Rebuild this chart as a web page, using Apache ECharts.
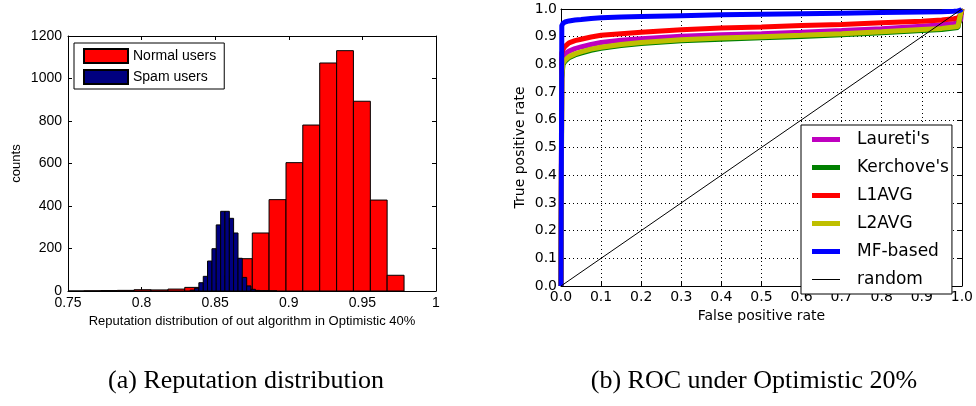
<!DOCTYPE html>
<html><head><meta charset="utf-8">
<script src="https://cdn.jsdelivr.net/npm/echarts@6/dist/echarts.min.js"></script>
<style>html,body{margin:0;padding:0;background:#fff}#c{width:976px;height:406px}</style>
</head><body><div id="c"></div>
<script>
// ---------- (a) Reputation distribution: histogram data ----------
const normalBinEdges = [0.7491,0.7606,0.7720,0.7835,0.7949,0.8064,0.8179,0.8293,0.8408,0.8522,0.8637,0.8752,0.8866,0.8981,0.9095,0.9210,0.9325,0.9439,0.9554,0.9668,0.9783];
const normalCounts   = [0,1,2,3,6,5,9,17,35,70,152,273,430,604,781,1073,1131,893,428,74];
const spamBinEdges   = [0.8330,0.8360,0.8389,0.8419,0.8448,0.8478,0.8507,0.8537,0.8566,0.8596,0.8625,0.8655,0.8684,0.8714,0.8743,0.8773,0.8802,0.8832,0.8861,0.8891,0.8920];
const spamCounts     = [4,13,39,69,141,199,311,375,375,342,273,154,64,24,8,3,1,1,0,0];
const histNames      = ['Normal users','Spam users'];

// ---------- (b) ROC curves ----------
const fpr      = [0,0.002,0.005,0.01,0.02,0.035,0.05,0.075,0.1,0.15,0.2,0.3,0.4,0.5,0.6,0.7,0.8,0.9,0.95,0.98,0.99,0.997,1];
const laureti  = [0,0.82,0.83,0.838,0.848,0.857,0.863,0.872,0.879,0.887,0.893,0.902,0.907,0.911,0.916,0.922,0.929,0.938,0.943,0.948,0.95,0.96,1];
const kerchove = [0,0.75,0.80,0.811,0.824,0.834,0.841,0.851,0.858,0.868,0.875,0.885,0.891,0.896,0.901,0.907,0.914,0.922,0.926,0.931,0.933,0.98,1];
const l1avg    = [0,0.84,0.855,0.865,0.878,0.886,0.891,0.899,0.905,0.911,0.916,0.925,0.931,0.935,0.94,0.944,0.95,0.956,0.96,0.965,0.968,0.98,1];
const l2avg    = [0,0.76,0.805,0.815,0.828,0.838,0.845,0.855,0.862,0.872,0.879,0.889,0.895,0.90,0.905,0.911,0.918,0.926,0.93,0.935,0.937,0.985,1];
const mfBased  = [0,0.94,0.948,0.953,0.957,0.96,0.962,0.966,0.968,0.971,0.973,0.976,0.979,0.981,0.983,0.985,0.987,0.989,0.99,0.992,0.993,0.996,1];
const randomX  = [0,1];
const randomY  = [0,1];
const rocNames = ["Laureti's","Kerchove's",'L1AVG','L2AVG','MF-based','random'];

const captions = ['(a) Reputation distribution','(b) ROC under Optimistic 20%'];

function bins(edges, counts){ return counts.map((c,i)=>[edges[i], edges[i+1], c]); }
function pairs(xs, ys){ return xs.map((x,i)=>[x, ys[i]]); }

function renderHist(params, api){
  const x0 = api.value(0), x1 = api.value(1), c = api.value(2);
  const p0 = api.coord([x0, c]);
  const p1 = api.coord([x1, 0]);
  const cs = params.coordSys;
  const r = echarts.graphic.clipRectByRect(
    {x:p0[0], y:p0[1], width:p1[0]-p0[0], height:p1[1]-p0[1]},
    {x:cs.x, y:cs.y, width:cs.width, height:cs.height});
  if (!r) return null;
  return {type:'rect', shape:r, style: api.style({stroke:'#000', lineWidth:1})};
}

const SANS_A = '"Liberation Sans", Arial, sans-serif';
const SANS_B = '"DejaVu Sans", sans-serif';
const THICK = 'path://M0,0 L28,0 L28,5 L0,5 Z';
const THIN  = 'path://M0,0 L28,0 L28,1 L0,1 Z';

const chart = echarts.init(document.getElementById('c'), null, {renderer:'canvas'});
const boxAxis = (extra) => Object.assign({
  axisLine:{show:true, onZero:false, lineStyle:{color:'#000', width:1}},
  axisTick:{show:true, inside:true, length:4, lineStyle:{color:'#000'}},
  splitLine:{show:false}
}, extra);

chart.setOption({
  animation:false,
  backgroundColor:'#fff',
  grid:[
    {left:68, top:36, width:368, height:255},
    {left:561, top:9, width:402, height:277}
  ],
  xAxis:[
    boxAxis({type:'value', gridIndex:0, position:'bottom', min:0.75, max:1, interval:0.05,
      axisLabel:{color:'#000', fontSize:14, fontFamily:SANS_A, margin:5},
      name:'Reputation distribution of out algorithm in Optimistic 40%', nameLocation:'middle', nameGap:24,
      nameTextStyle:{color:'#000', fontSize:13, fontFamily:SANS_A}}),
    boxAxis({type:'value', gridIndex:0, position:'top', min:0.75, max:1, interval:0.05, axisLabel:{show:false}}),
    boxAxis({type:'value', gridIndex:1, position:'bottom', min:0, max:1, interval:0.1,
      axisLabel:{color:'#000', fontSize:14, fontFamily:SANS_B, margin:4, formatter:v=>v.toFixed(1)},
      splitLine:{show:true, lineStyle:{color:'#000', width:1, type:[1,3]}},
      name:'False positive rate', nameLocation:'middle', nameGap:20,
      nameTextStyle:{color:'#000', fontSize:14, fontFamily:SANS_B}}),
    boxAxis({type:'value', gridIndex:1, position:'top', min:0, max:1, interval:0.1, axisLabel:{show:false}})
  ],
  yAxis:[
    boxAxis({type:'value', gridIndex:0, position:'left', min:0, max:1200, interval:200,
      axisLabel:{color:'#000', fontSize:14, fontFamily:SANS_A, margin:6, formatter:v=>String(v)},
      name:'counts', nameLocation:'middle', nameGap:45,
      nameTextStyle:{color:'#000', fontSize:13, fontFamily:SANS_A}}),
    boxAxis({type:'value', gridIndex:0, position:'right', min:0, max:1200, interval:200, axisLabel:{show:false}}),
    boxAxis({type:'value', gridIndex:1, position:'left', min:0, max:1, interval:0.1,
      axisLabel:{color:'#000', fontSize:14, fontFamily:SANS_B, margin:4, formatter:v=>v.toFixed(1)},
      splitLine:{show:true, lineStyle:{color:'#000', width:1, type:[1,3]}},
      name:'True positive rate', nameLocation:'middle', nameGap:34,
      nameTextStyle:{color:'#000', fontSize:14, fontFamily:SANS_B}}),
    boxAxis({type:'value', gridIndex:1, position:'right', min:0, max:1, interval:0.1, axisLabel:{show:false}})
  ],
  legend:[
    {data:histNames, orient:'vertical', left:74, top:43, icon:'rect', itemWidth:44, itemHeight:14, itemGap:5,
     padding:[5,8,4,9], borderColor:'#000', borderWidth:1, backgroundColor:'#fff',
     textStyle:{color:'#000', fontSize:14, fontFamily:SANS_A}, selectedMode:false},
    {data:rocNames.map((n,i)=>({name:n, icon: i===5 ? THIN : THICK})),
     orient:'vertical', left:801, top:125, itemWidth:28, itemHeight:14, itemGap:11,
     padding:[6,3,6,11], borderColor:'#000', borderWidth:1, backgroundColor:'#fff',
     textStyle:{color:'#000', fontSize:17, fontFamily:SANS_B, padding:[0,0,0,12]}, selectedMode:false}
  ],
  series:[
    {name:histNames[0], type:'custom', xAxisIndex:0, yAxisIndex:0, renderItem:renderHist,
     itemStyle:{color:'#ff0000', borderColor:'#000', borderWidth:1},
     encode:{x:[0,1], y:2}, data:bins(normalBinEdges, normalCounts), z:2},
    {name:histNames[1], type:'custom', xAxisIndex:0, yAxisIndex:0, renderItem:renderHist,
     itemStyle:{color:'#000080', borderColor:'#000', borderWidth:1},
     encode:{x:[0,1], y:2}, data:bins(spamBinEdges, spamCounts), z:3},
    {name:rocNames[0], type:'line', xAxisIndex:2, yAxisIndex:2, data:pairs(fpr, laureti), showSymbol:false, symbol:'none',
     lineStyle:{color:'#bf00bf', width:5}, itemStyle:{color:'#bf00bf'}, z:2},
    {name:rocNames[1], type:'line', xAxisIndex:2, yAxisIndex:2, data:pairs(fpr, kerchove), showSymbol:false, symbol:'none',
     lineStyle:{color:'#008000', width:5}, itemStyle:{color:'#008000'}, z:3},
    {name:rocNames[2], type:'line', xAxisIndex:2, yAxisIndex:2, data:pairs(fpr, l1avg), showSymbol:false, symbol:'none',
     lineStyle:{color:'#ff0000', width:5}, itemStyle:{color:'#ff0000'}, z:4},
    {name:rocNames[3], type:'line', xAxisIndex:2, yAxisIndex:2, data:pairs(fpr, l2avg), showSymbol:false, symbol:'none',
     lineStyle:{color:'#bfbf00', width:5}, itemStyle:{color:'#bfbf00'}, z:5},
    {name:rocNames[4], type:'line', xAxisIndex:2, yAxisIndex:2, data:pairs(fpr, mfBased), showSymbol:false, symbol:'none',
     lineStyle:{color:'#0000ff', width:5}, itemStyle:{color:'#0000ff'}, z:6},
    {name:rocNames[5], type:'line', xAxisIndex:2, yAxisIndex:2, data:pairs(randomX, randomY), showSymbol:false, symbol:'none',
     lineStyle:{color:'#000', width:1}, itemStyle:{color:'#000'}, z:7}
  ],
  graphic:[
    {type:'text', style:{text:captions[0], font:'26px "Liberation Serif", "Times New Roman", serif', fill:'#000', textAlign:'center', textVerticalAlign:'middle', x:246, y:381}},
    {type:'text', style:{text:captions[1], font:'26px "Liberation Serif", "Times New Roman", serif', fill:'#000', textAlign:'center', textVerticalAlign:'middle', x:754, y:381}}
  ]
});
</script></body></html>
